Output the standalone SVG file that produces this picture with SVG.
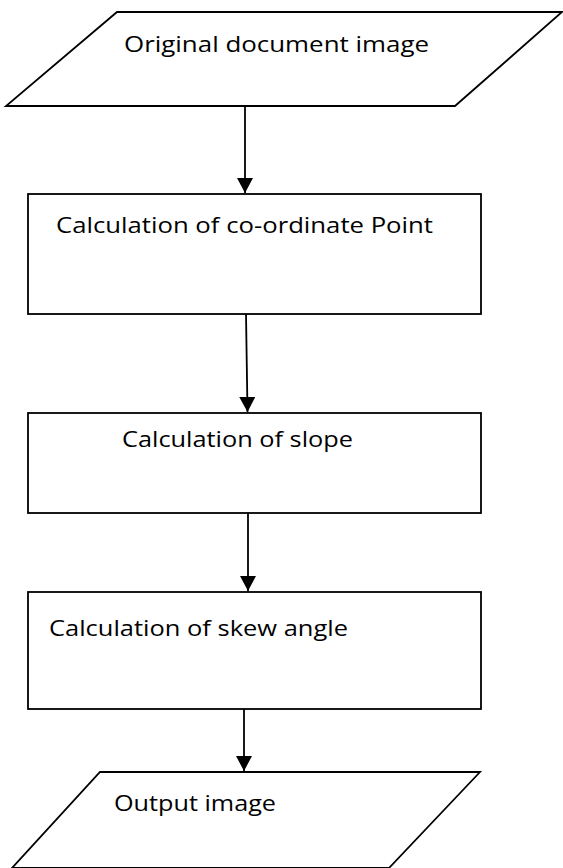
<svg xmlns="http://www.w3.org/2000/svg" width="563" height="868" viewBox="0 0 563 868">
<style>
.shape{fill:#fff;stroke:#000;stroke-width:1.8}
.lbl{font-family:"Open Sans","Noto Sans","Liberation Sans",sans-serif;font-size:21px;fill:#000}
.conn{stroke:#000;stroke-width:1.8;fill:none}
</style>
<defs>
<marker id="ah" viewBox="0 0 15 16" refX="15" refY="8" markerWidth="15" markerHeight="16" markerUnits="userSpaceOnUse" orient="auto">
<path d="M0,0 L15,8 L0,16 Z" fill="#000"/>
</marker>
</defs>
<g id="n1">
<polygon class="shape" points="117,12 562,12 455,106 6,106"/>
<text class="lbl" x="124" y="52" textLength="305" lengthAdjust="spacingAndGlyphs">Original document image</text>
</g>
<g id="n2">
<rect class="shape" x="28" y="194" width="453" height="120"/>
<text class="lbl" x="56" y="233" textLength="377" lengthAdjust="spacingAndGlyphs">Calculation of co-ordinate Point</text>
</g>
<g id="n3">
<rect class="shape" x="28" y="413" width="453" height="100"/>
<text class="lbl" x="122" y="447" textLength="231" lengthAdjust="spacingAndGlyphs">Calculation of slope</text>
</g>
<g id="n4">
<rect class="shape" x="28" y="592" width="453" height="117"/>
<text class="lbl" x="49" y="636" textLength="299" lengthAdjust="spacingAndGlyphs">Calculation of skew angle</text>
</g>
<g id="n5">
<polygon class="shape" points="100,772 480,772 389,868 12,868"/>
<text class="lbl" x="114" y="811" textLength="162" lengthAdjust="spacingAndGlyphs">Output image</text>
</g>
<g id="connectors">
<line class="conn" x1="245" y1="106" x2="245" y2="193" marker-end="url(#ah)"/>
<line class="conn" x1="246" y1="314" x2="247.5" y2="412" marker-end="url(#ah)"/>
<line class="conn" x1="248" y1="513" x2="248" y2="591" marker-end="url(#ah)"/>
<line class="conn" x1="244" y1="709" x2="244" y2="771" marker-end="url(#ah)"/>
</g>
</svg>
